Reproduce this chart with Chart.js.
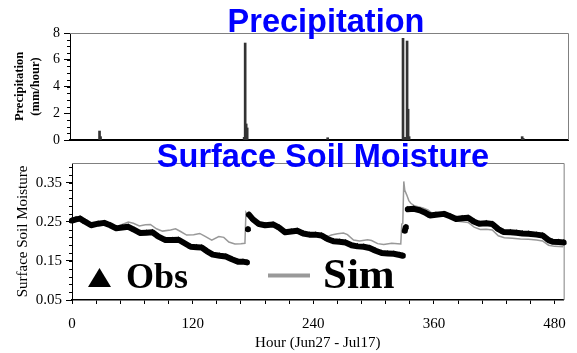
<!DOCTYPE html>
<html>
<head>
<meta charset="utf-8">
<script src="https://cdn.jsdelivr.net/npm/chart.js@4.4.0/dist/chart.umd.min.js"></script>
<style>
  html, body { margin: 0; padding: 0; background: #fff; }
  #page { position: relative; width: 577px; height: 353px; overflow: hidden; }
  .panel { position: absolute; left: 0; width: 577px; }
  #rainBox { top: 0; height: 153px; }
  #soilBox { top: 136px; height: 217px; }
</style>
</head>
<body>
<div id="page">
  <div class="panel" id="rainBox"><canvas id="rainChart"></canvas></div>
  <div class="panel" id="soilBox"><canvas id="soilChart"></canvas></div>
</div>
<script>
// hours counted from Jun27 00:00
const hourMin = 0;
const hourMax = 489;
const hourTicks = [0, 120, 240, 360, 480];

// precipitation (mm/hour)
const rainHours  = [29, 30, 171, 172, 173, 174, 253, 327, 329, 331, 332, 333, 444, 445];
const rainValues = [0.67, 0.25, 0.2, 7.25, 1.2, 0.9, 0.17, 7.6, 0.2, 7.4, 2.3, 0.25, 0.25, 0.12];
const rainTicks  = [0, 2, 4, 6, 8];

// observed surface soil moisture (null = break in the record)
const obsHours = [
  0, 4, 8, 13, 19, 26, 32, 38, 44, 50, 56, 62, 68, 74, 80, 86, 93, 100, 106, 112,
  118, 124, 129, 134, 140, 147, 153, 159, 165, 170, 174, 174.5, 175, 175.5,
  176, 180, 186, 192, 200, 206, 212, 218, 224, 230, 236, 242, 248, 254, 260, 266,
  272, 278, 284, 290, 296, 302, 308, 314, 320, 326, 329, 330, 331, 332, 333,
  334, 340, 346, 352, 356, 362, 370, 376, 382, 388, 394, 400, 405, 412, 418, 424,
  429, 436, 442, 448, 454, 462, 468, 474, 478, 484, 489
];
const obsValues = [
  0.253, 0.256, 0.258, 0.250, 0.241, 0.245, 0.247, 0.241, 0.233, 0.235, 0.237, 0.229, 0.221, 0.222, 0.223, 0.212, 0.203, 0.203, 0.204, 0.195,
  0.186, 0.185, 0.184, 0.175, 0.166, 0.163, 0.161, 0.154, 0.148, 0.148, 0.146, null, 0.231, null,
  0.268, 0.256, 0.244, 0.241, 0.243, 0.235, 0.223, 0.225, 0.227, 0.220, 0.217, 0.217, 0.215, 0.206, 0.200, 0.199,
  0.197, 0.190, 0.187, 0.186, 0.183, 0.176, 0.170, 0.169, 0.168, 0.165, 0.163, null, 0.227, 0.236, null,
  0.282, 0.283, 0.279, 0.272, 0.266, 0.268, 0.270, 0.264, 0.257, 0.259, 0.260, 0.250, 0.245, 0.246, 0.244, 0.231,
  0.224, 0.223, 0.222, 0.220, 0.219, 0.217, 0.215, 0.203, 0.199, 0.198, 0.197
];

// simulated surface soil moisture
const simHours = [
  0, 4, 8, 13, 19, 26, 32, 38, 44, 50, 56, 61, 67, 73, 78, 84, 90, 98, 103, 108,
  114, 121, 127, 132, 139, 146, 151, 156, 162, 168, 172, 173, 174, 176, 180, 186, 192, 200, 206, 212,
  218, 224, 230, 236, 242, 248, 254, 258, 264, 270, 274, 280, 286, 294, 298, 304, 310, 318, 324, 327,
  328, 329, 330, 331, 333, 335, 337, 341, 349, 354, 358, 364, 370, 376, 382, 388, 394, 400, 406, 412,
  418, 424, 430, 438, 446, 454, 462, 468, 474, 480, 489
];
const simValues = [
  0.253, 0.256, 0.258, 0.250, 0.241, 0.245, 0.247, 0.241, 0.237, 0.243, 0.249, 0.246, 0.239, 0.242, 0.243, 0.232, 0.226, 0.229, 0.232, 0.225,
  0.216, 0.217, 0.220, 0.213, 0.203, 0.212, 0.210, 0.198, 0.193, 0.194, 0.195, 0.274, 0.270, 0.263, 0.255, 0.245, 0.242, 0.244, 0.236, 0.224,
  0.226, 0.228, 0.221, 0.218, 0.218, 0.217, 0.212, 0.216, 0.219, 0.221, 0.217, 0.203, 0.201, 0.204, 0.202, 0.194, 0.192, 0.195, 0.194, 0.193,
  0.244, 0.246, 0.353, 0.330, 0.318, 0.304, 0.297, 0.290, 0.285, 0.280, 0.272, 0.267, 0.266, 0.260, 0.252, 0.250, 0.248, 0.236, 0.230, 0.231,
  0.229, 0.214, 0.209, 0.208, 0.206, 0.205, 0.203, 0.201, 0.190, 0.187, 0.186
];
const soilTicks = [0.05, 0.15, 0.25, 0.35];

const serif = 'Liberation Serif';
const sans = 'Liberation Sans';

const toPoints = (xs, ys) => xs.map((x, i) => ({ x: x, y: ys[i] }));

function range(from, to, step) {
  const out = [];
  for (let v = from; v <= to + step / 1000; v += step) out.push(+v.toFixed(4));
  return out;
}

// short tick marks between the labelled ones
const minorTicks = {
  id: 'minorTicks',
  afterDraw(chart, args, opts) {
    const ctx = chart.ctx;
    (opts.marks || []).forEach(m => {
      const scale = chart.scales[m.scale];
      ctx.save();
      ctx.strokeStyle = '#000';
      ctx.lineWidth = 1;
      ctx.beginPath();
      m.values.forEach(v => {
        const p = Math.round(scale.getPixelForValue(v)) + 0.5;
        ctx.moveTo(scale.right - m.length, p);
        ctx.lineTo(scale.right, p);
      });
      ctx.stroke();
      ctx.restore();
    });
  }
};

// grey top and right edges of the plot box
const plotFrame = {
  id: 'plotFrame',
  beforeDatasetsDraw(chart) {
    const { ctx, chartArea: a } = chart;
    ctx.save();
    ctx.strokeStyle = '#808080';
    ctx.lineWidth = 1;
    ctx.beginPath();
    ctx.moveTo(a.left, a.top + 0.5);
    ctx.lineTo(a.right + 0.5, a.top + 0.5);
    ctx.lineTo(a.right + 0.5, a.bottom);
    ctx.stroke();
    ctx.restore();
  }
};

// big blue heading
const heading = {
  id: 'heading',
  afterDraw(chart, args, opts) {
    const ctx = chart.ctx;
    ctx.save();
    ctx.font = 'bold 32.5px "' + sans + '"';
    ctx.fillStyle = '#0000ff';
    ctx.textAlign = 'center';
    ctx.textBaseline = 'alphabetic';
    ctx.fillText(opts.text, opts.x, opts.y);
    ctx.restore();
  }
};

// Obs / Sim key inside the moisture plot
const seriesKey = {
  id: 'seriesKey',
  afterDraw(chart) {
    const { ctx, chartArea: a } = chart;
    const base = a.bottom - 13;
    ctx.save();
    ctx.fillStyle = '#000';
    ctx.beginPath();
    ctx.moveTo(a.left + 16, base);
    ctx.lineTo(a.left + 39, base);
    ctx.lineTo(a.left + 27.5, base - 19);
    ctx.closePath();
    ctx.fill();
    ctx.font = 'bold 36px "' + serif + '"';
    ctx.textBaseline = 'alphabetic';
    ctx.fillText('Obs', a.left + 54, base + 0.5);
    ctx.strokeStyle = '#999';
    ctx.lineWidth = 4;
    ctx.beginPath();
    ctx.moveTo(a.left + 196, base - 11.5);
    ctx.lineTo(a.left + 238, base - 11.5);
    ctx.stroke();
    ctx.font = 'bold 43px "' + serif + '"';
    ctx.fillText('Sim', a.left + 251, base + 0.5);
    ctx.restore();
  }
};

new Chart(document.getElementById('rainChart'), {
  type: 'bar',
  data: {
    datasets: [{
      data: toPoints(rainHours, rainValues),
      backgroundColor: '#333',
      barThickness: 2,
      grouped: false
    }]
  },
  plugins: [minorTicks, plotFrame, heading],
  options: {
    responsive: true,
    maintainAspectRatio: false,
    animation: false,
    events: [],
    layout: { padding: { top: 33, right: 9, left: 0, bottom: 0 } },
    plugins: {
      legend: { display: false },
      tooltip: { enabled: false },
      heading: { text: 'Precipitation', x: 326, y: 31.5 },
      minorTicks: { marks: [{ scale: 'y', values: range(0, 8, 0.5), length: 3 }] }
    },
    scales: {
      x: {
        type: 'linear',
        min: hourMin,
        max: hourMax,
        offset: false,
        ticks: { display: false },
        grid: { display: false, drawTicks: false },
        border: { display: true, color: '#000', width: 2 },
        afterFit: s => { s.height = 13; }
      },
      y: {
        min: 0,
        max: 8,
        afterBuildTicks: s => { s.ticks = rainTicks.map(v => ({ value: v })); },
        ticks: { color: '#000', padding: 4, font: { family: serif, size: 14 } },
        grid: { drawOnChartArea: false, tickLength: 6, color: '#000' },
        border: { color: '#000', width: 1 },
        title: {
          display: true,
          text: ['Precipitation', '(mm/hour)'],
          color: '#000',
          font: { family: serif, size: 12.5, weight: 'bold', lineHeight: 1.25 },
          padding: { top: 12, bottom: 0 }
        },
        afterFit: s => { s.width = 70; }
      }
    }
  }
});

new Chart(document.getElementById('soilChart'), {
  type: 'line',
  data: {
    datasets: [
      {
        label: 'Obs',
        data: toPoints(obsHours, obsValues),
        borderColor: '#000',
        borderWidth: 6,
        borderJoinStyle: 'round',
        borderCapStyle: 'round',
        pointStyle: 'triangle',
        pointRadius: 3.5,
        pointBackgroundColor: '#000',
        pointBorderWidth: 0,
        spanGaps: false,
        clip: false
      },
      {
        label: 'Sim',
        data: toPoints(simHours, simValues),
        borderColor: '#999',
        borderWidth: 1.5,
        pointRadius: 0,
        tension: 0
      }
    ]
  },
  plugins: [minorTicks, plotFrame, heading, seriesKey],
  options: {
    responsive: true,
    maintainAspectRatio: false,
    animation: false,
    events: [],
    layout: { padding: { top: 27, right: 8, left: 0, bottom: 0 } },
    plugins: {
      legend: { display: false },
      tooltip: { enabled: false },
      heading: { text: 'Surface Soil Moisture', x: 323, y: 30.7 },
      minorTicks: { marks: [{ scale: 'y', values: range(0.05, 0.39, 0.02), length: 3 }] }
    },
    scales: {
      x: {
        type: 'linear',
        min: hourMin,
        max: hourMax,
        ticks: {
          stepSize: 24,
          includeBounds: false,
          autoSkip: false,
          maxRotation: 0,
          color: '#000',
          padding: 11,
          font: { family: serif, size: 15 },
          callback: v => (hourTicks.includes(v) ? String(v) : '')
        },
        grid: { drawOnChartArea: false, tickLength: 4, color: '#000' },
        border: { color: '#000', width: 1.5 },
        title: {
          display: true,
          text: 'Hour (Jun27 - Jul17)',
          color: '#000',
          font: { family: serif, size: 15 },
          padding: { top: 0, bottom: 1 }
        },
        afterFit: s => { s.height = 53; }
      },
      y: {
        min: 0.05,
        max: 0.40,
        afterBuildTicks: s => { s.ticks = soilTicks.map(v => ({ value: v })); },
        ticks: {
          color: '#000',
          padding: 4,
          font: { family: serif, size: 15 },
          callback: v => v.toFixed(2)
        },
        grid: { drawOnChartArea: false, tickLength: 6, color: '#000' },
        border: { color: '#000', width: 1 },
        title: {
          display: true,
          text: 'Surface Soil Moisture',
          color: '#000',
          font: { family: serif, size: 15 },
          padding: { top: 14, bottom: 0 }
        },
        afterFit: s => { s.width = 72; }
      }
    }
  }
});
</script>
</body>
</html>
